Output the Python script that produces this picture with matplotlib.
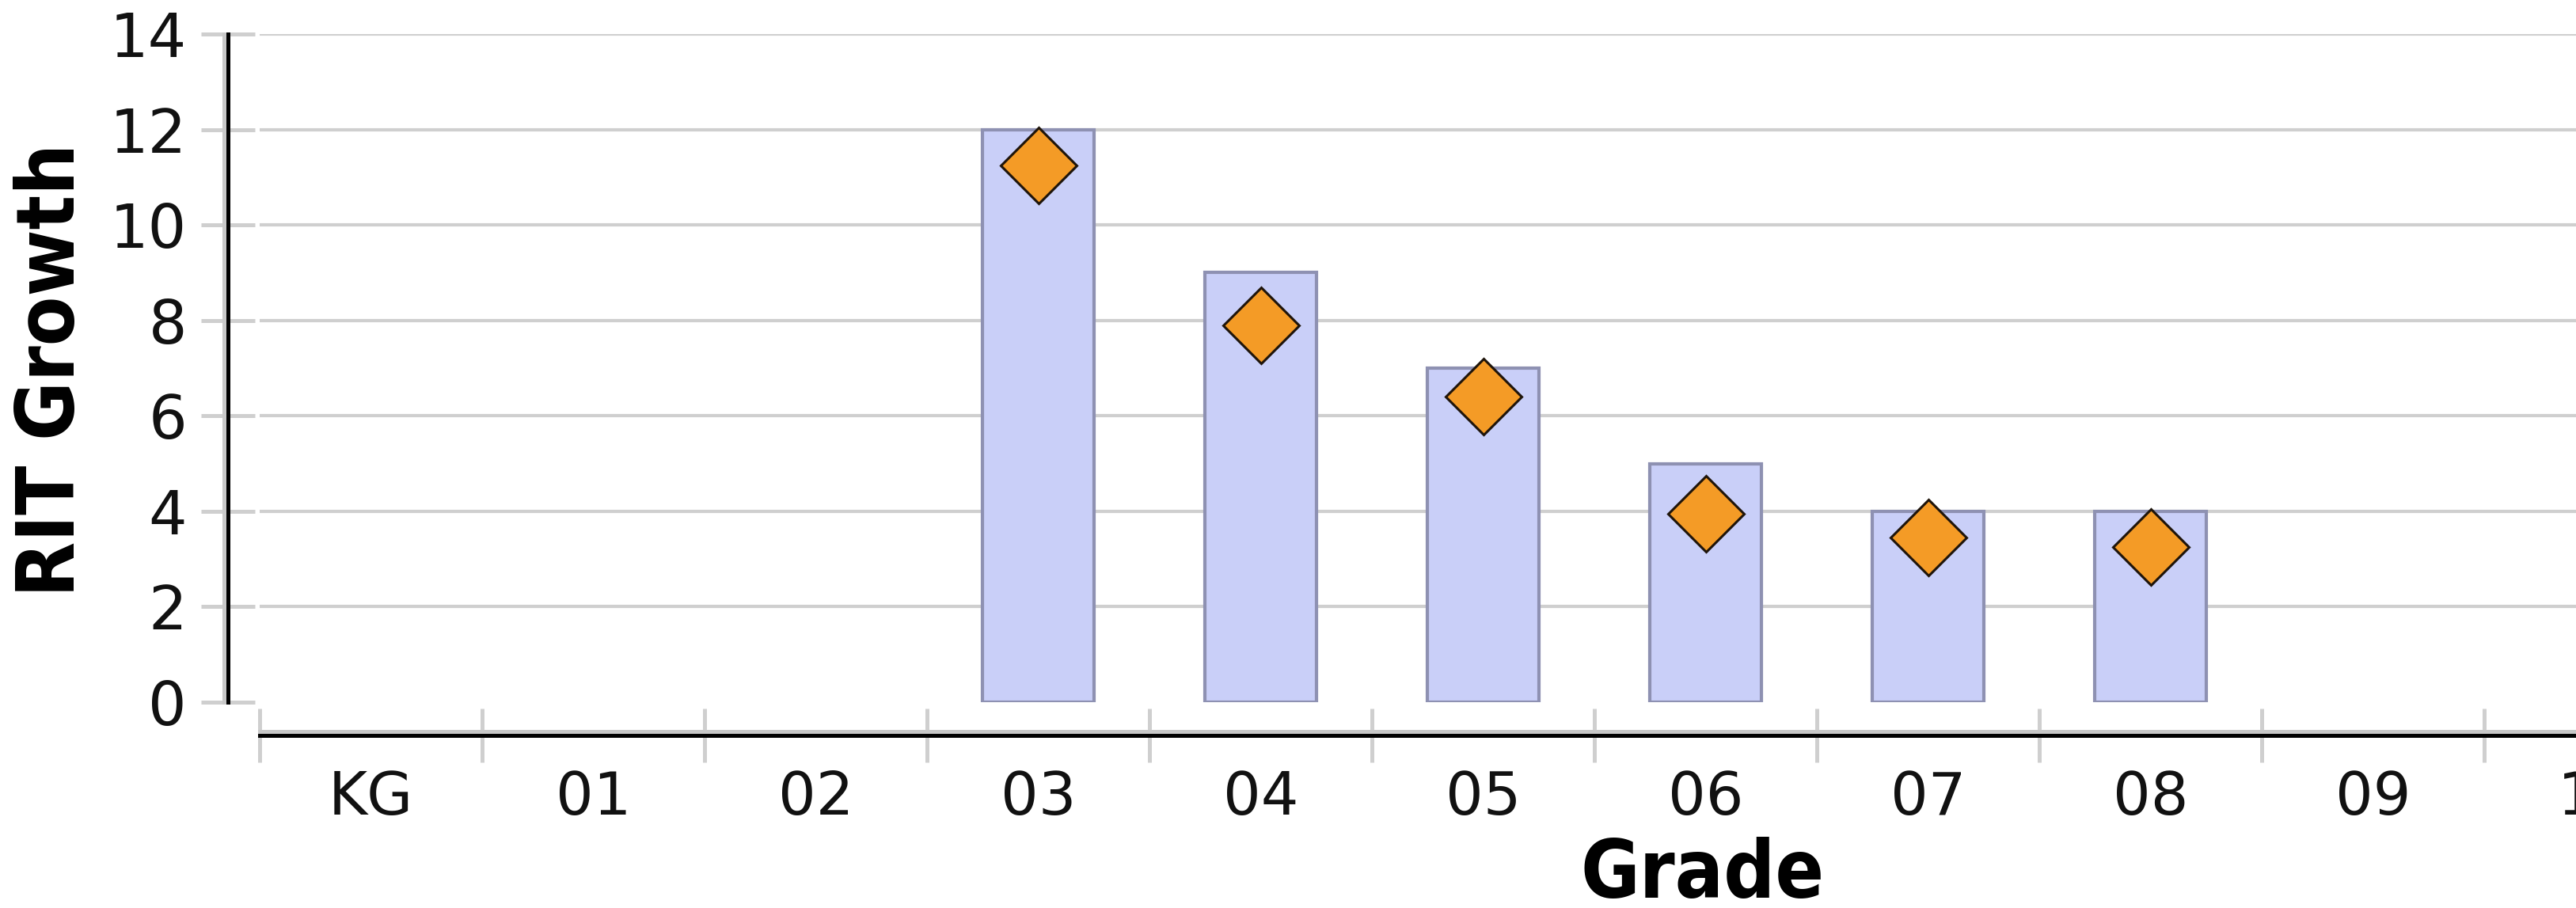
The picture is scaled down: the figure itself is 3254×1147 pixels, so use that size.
import matplotlib
matplotlib.use("Agg")
import matplotlib.pyplot as plt
import matplotlib.transforms as mtransforms

# ---- data ----
grades = ["KG", "01", "02", "03", "04", "05", "06", "07", "08", "09", "10"]
bar_grades = ["03", "04", "05", "06", "07", "08"]
bar_values = [12, 9, 7, 5, 4, 4]              # RIT growth bars
marker_values = [11.25, 7.9, 6.4, 3.95, 3.45, 3.25]   # orange diamonds
y_ticks = [0, 2, 4, 6, 8, 10, 12, 14]

GRID = "#cfcfcf"
BAR_FACE = "#c9cff8"
BAR_EDGE = "#8e91b2"
DIAMOND = "#f49b26"

DPI = 100
W, H = 3254, 1147
fig = plt.figure(figsize=(W / DPI, H / DPI), dpi=DPI)
fig.patch.set_facecolor("white")

# plot area: left edge at 328px, y=0 at 887px, y=14 at 43px, one band = 281px
band = 281
left, bottom, top = 328, 887, 43
ax = fig.add_axes([left / W, (H - bottom) / H,
                   len(grades) * band / W, (bottom - top) / H])
ax.set_xlim(-0.5, len(grades) - 0.5)
ax.set_ylim(0, 14)

for v in y_ticks[1:]:
    ax.axhline(v, color=GRID, lw=3.0, zorder=0)

xpos = [grades.index(g) for g in bar_grades]
ax.bar(xpos, bar_values, width=0.5, color=BAR_FACE, edgecolor=BAR_EDGE,
       linewidth=3.0, zorder=2)
ax.plot(xpos, marker_values, ls="none", marker="D", markersize=49,
        markerfacecolor=DIAMOND, markeredgecolor="#1e140a",
        markeredgewidth=2.2, zorder=3)

# spines: detached axes like the original chart
for s in ("top", "right"):
    ax.spines[s].set_visible(False)
ax.spines["left"].set_position(("outward", 40 * 72 / DPI))
ax.spines["bottom"].set_position(("outward", 42 * 72 / DPI))
for s in ("left", "bottom"):
    ax.spines[s].set_linewidth(3.6)
    ax.spines[s].set_color("black")
    ax.spines[s].set_zorder(5)

# light grey shadow lines next to the axis lines
tl = mtransforms.offset_copy(ax.get_yaxis_transform(), fig=fig, x=-45, y=0, units="dots")
ax.plot([0, 0], [0, 14], transform=tl, color="#c8c8c8", lw=3.6, clip_on=False, zorder=4)
tb = mtransforms.offset_copy(ax.get_xaxis_transform(), fig=fig, x=0, y=-37, units="dots")
ax.plot([-0.5, len(grades) - 0.5], [0, 0], transform=tb, color="#c8c8c8", lw=3.6,
        clip_on=False, zorder=4)

# y ticks
ax.set_yticks(y_ticks)
ax.set_yticklabels([str(v) for v in y_ticks], family="DejaVu Sans", fontsize=55)
ax.tick_params(axis="y", direction="inout", length=49, width=3.6, color=GRID,
               pad=13, labelcolor="#111111")

# x ticks: grey marks at band boundaries, labels at band centres
ax.set_xticks([i - 0.5 for i in range(len(grades) + 1)])
ax.set_xticklabels([])
ax.tick_params(axis="x", which="major", direction="inout", length=49, width=3.6,
               color=GRID)
ax.set_xticks(range(len(grades)), minor=True)
ax.set_xticklabels(grades, minor=True, fontsize=54, family="DejaVu Sans")
ax.tick_params(axis="x", which="minor", length=0, pad=31, labelcolor="#111111")

fig.text(66 / W, (H - 467) / H, "RIT Growth", rotation=90, ha="center", va="center",
         fontsize=73, fontweight="bold", fontstretch="condensed", family="DejaVu Sans")
fig.text(2151 / W, 13 / H, "Grade", ha="center", va="baseline",
         fontsize=73, fontweight="bold", fontstretch="condensed", family="DejaVu Sans")

fig.savefig("out.png", dpi=DPI)
